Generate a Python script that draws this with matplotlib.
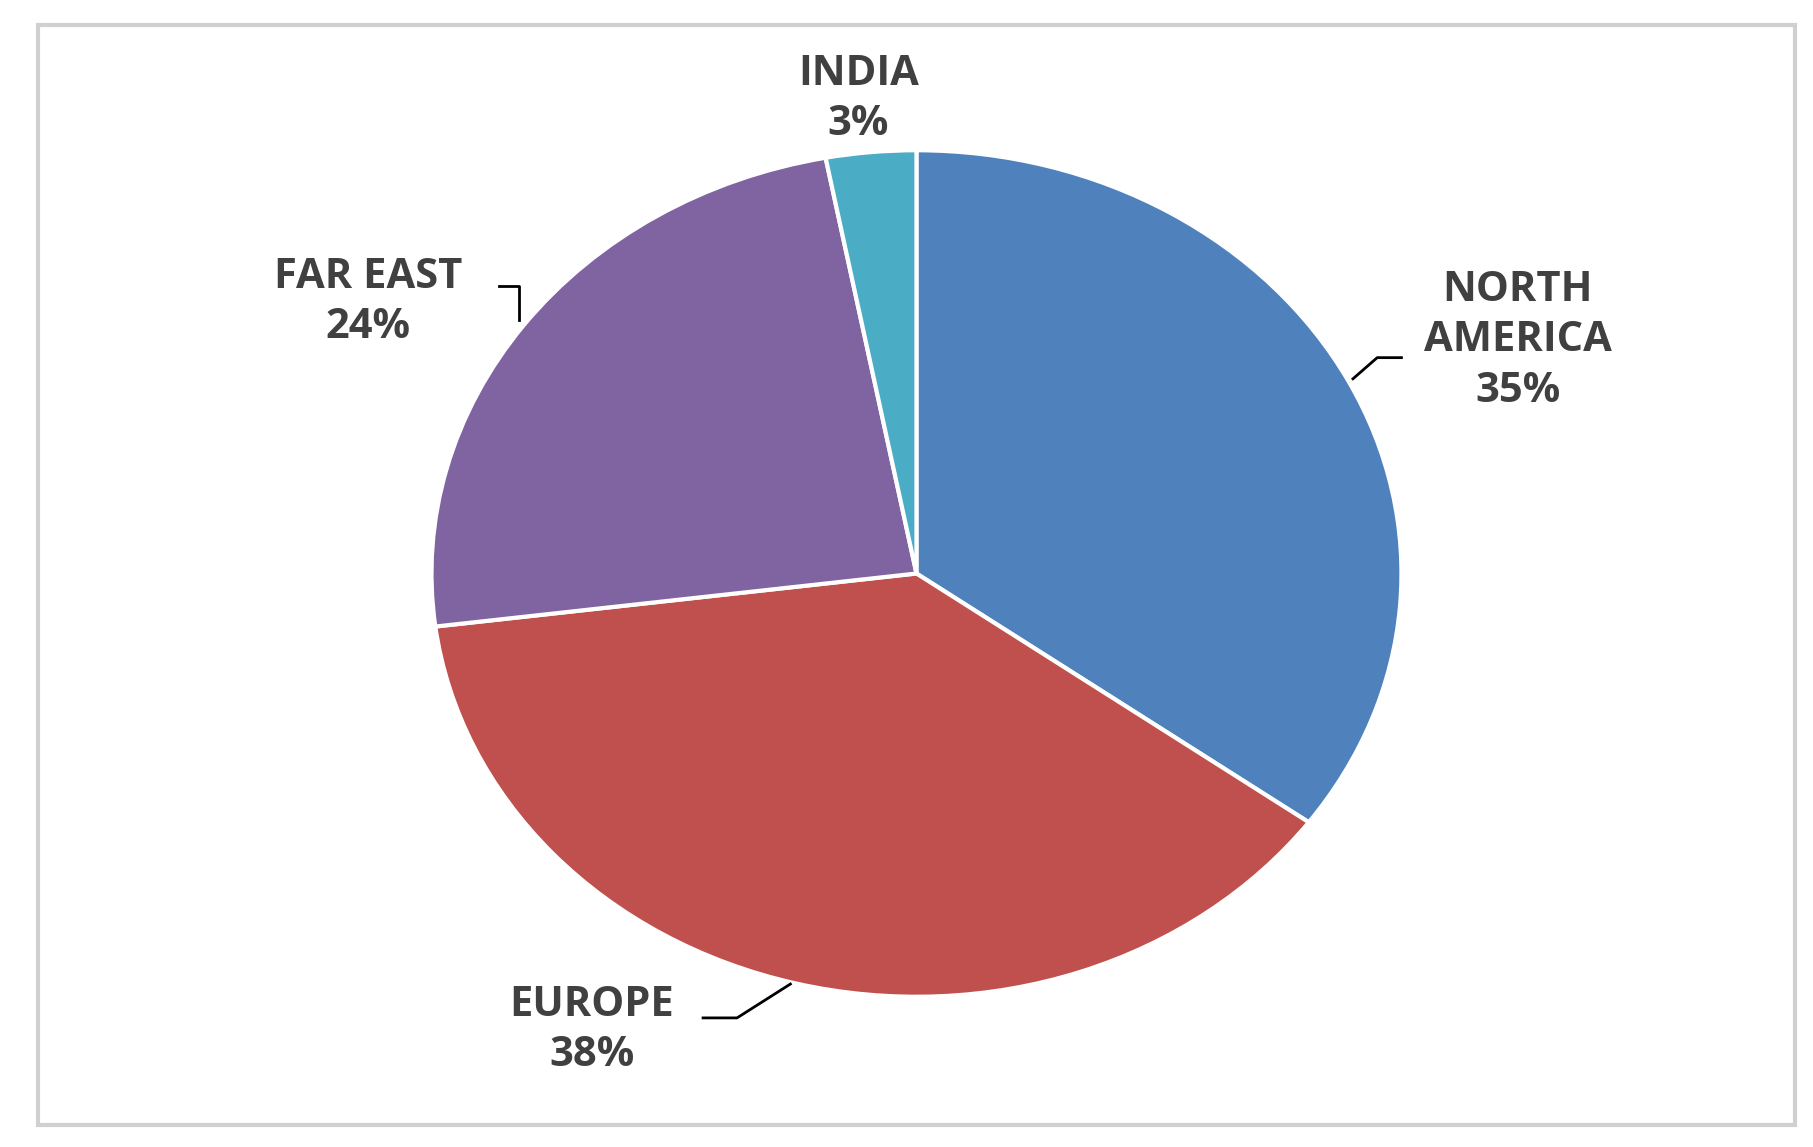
import matplotlib.pyplot as plt
from matplotlib.patches import Rectangle

regions = ['NORTH\nAMERICA', 'EUROPE', 'FAR EAST', 'INDIA']
shares = [35, 38, 24, 3]
colors = ['#4F81BD', '#C0504D', '#8064A2', '#4BACC6']

fig = plt.figure(figsize=(18.13, 11.47), dpi=100)
fig.patches.append(Rectangle((0.021, 0.019), 0.969, 0.959, transform=fig.transFigure,
                             fill=False, edgecolor='#D0D0D0', linewidth=3))

ax = fig.add_axes([0.238, 0.131, 0.535, 0.738])
ax.pie(shares, colors=colors, startangle=90, counterclock=False,
       wedgeprops=dict(edgecolor='white', linewidth=3))
ax.set_aspect('auto')
ax.set_xlim(-1, 1)
ax.set_ylim(-1, 1)
ax.set_clip_on(False)

# label positions in data coords (hand placed)
label_pos = [(1.24, 0.55), (-0.67, -1.08), (-1.13, 0.64), (-0.12, 1.12)]
for name, val, (x, y) in zip(regions, shares, label_pos):
    ax.text(x, y, f'{name}\n{val}%', ha='center', va='center', fontsize=30,
            fontweight='bold', color='#404040', family='Open Sans',
            linespacing=1.3, clip_on=False)

# leader lines
lc = dict(color='black', linewidth=2, clip_on=False)
ax.plot([0.9, 0.95, 1.0], [0.46, 0.51, 0.51], **lc)
ax.plot([-0.86, -0.82, -0.82], [0.68, 0.68, 0.6], **lc)
ax.plot([-0.44, -0.37, -0.26], [-1.05, -1.05, -0.97], **lc)

fig.savefig('out.png', dpi=100)
